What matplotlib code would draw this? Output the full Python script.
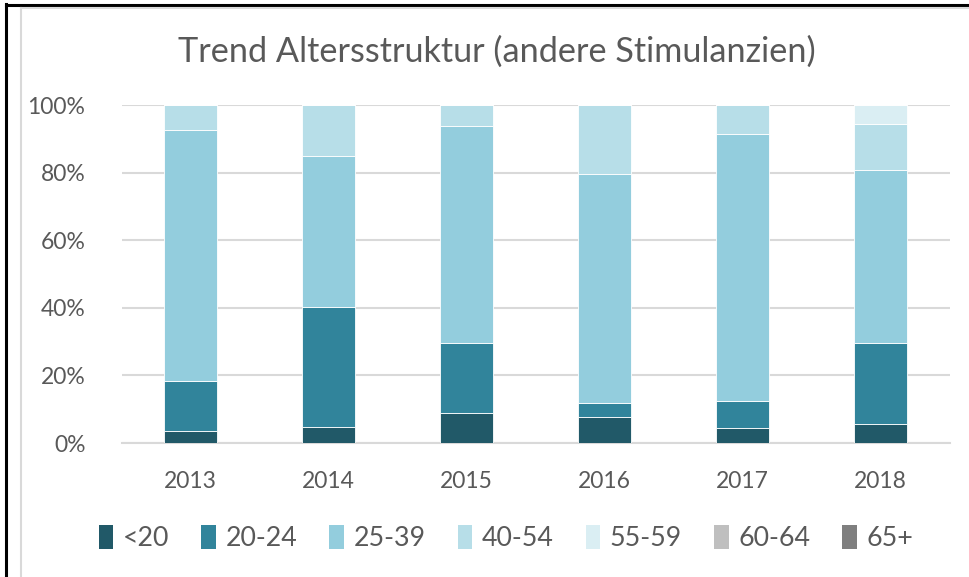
import matplotlib
matplotlib.use("Agg")
import matplotlib.pyplot as plt
from matplotlib.lines import Line2D
from matplotlib.patches import Patch
import numpy as np

years = ["2013", "2014", "2015", "2016", "2017", "2018"]
groups = ["<20", "20-24", "25-39", "40-54", "55-59", "60-64", "65+"]
lt20 = [3.6, 4.8, 9.0, 7.8, 4.3, 5.5]
a20_24 = [14.7, 35.4, 20.7, 4.1, 8.2, 24.2]
a25_39 = [74.4, 44.8, 64.2, 67.8, 79.0, 51.2]
a40_54 = [7.3, 15.0, 6.1, 20.3, 8.5, 13.6]
a55_59 = [0.0, 0.0, 0.0, 0.0, 0.0, 5.5]
a60_64 = [0.0, 0.0, 0.0, 0.0, 0.0, 0.0]
a65p = [0.0, 0.0, 0.0, 0.0, 0.0, 0.0]
series = [lt20, a20_24, a25_39, a40_54, a55_59, a60_64, a65p]
colors = ["#215968", "#31849B", "#93CDDD", "#B7DEE8", "#DAEEF3", "#BFBFBF", "#7F7F7F"]

plt.rcParams['font.family'] = ['Lato', 'DejaVu Sans']
txt = "#595959"
W, H = 969, 577
fig = plt.figure(figsize=(W / 100, H / 100), dpi=100)
fig.patch.set_facecolor("white")

ax = fig.add_axes([121.5 / W, 1 - 443 / H, (949.5 - 121.5) / W, (443 - 105) / H])
x = np.arange(len(years))
bottom = np.zeros(len(years))
for vals, c, g in zip(series, colors, groups):
    v = np.array(vals) / 100.0
    ax.bar(x, v, width=0.385, bottom=bottom, color=c, edgecolor="white",
           linewidth=0.6, label=g, zorder=3)
    bottom += v

ax.set_xlim(-0.5, len(years) - 0.5)
ax.set_ylim(0, 1.0)
ax.set_yticks(np.linspace(0, 1, 6))
ax.set_yticklabels([f"{int(round(t * 100))}%" for t in np.linspace(0, 1, 6)])
ax.set_xticks(x)
ax.set_xticklabels(years)
ax.yaxis.grid(True, color="#D9D9D9", linewidth=1.5, zorder=0)
ax.set_axisbelow(True)
for s in ["top", "right", "left"]:
    ax.spines[s].set_visible(False)
ax.spines["bottom"].set_color("#D9D9D9")
ax.spines["bottom"].set_linewidth(1.5)
ax.tick_params(axis="both", length=0, colors=txt, labelsize=16.5)
ax.tick_params(axis="y", pad=26)
ax.tick_params(axis="x", pad=20)

fig.text(497 / W, 1 - 52 / H, "Trend Altersstruktur (andere Stimulanzien)",
         ha="center", va="center", fontsize=24.7, color=txt)

handles = [Patch(facecolor=c, edgecolor="none") for c in colors]
leg = fig.legend(handles, groups, loc="center", bbox_to_anchor=(506 / W, 1 - 538 / H),
                 ncol=7, frameon=False, fontsize=19.3, labelcolor=txt,
                 handlelength=0.55, handleheight=1.0, handletextpad=0.35,
                 columnspacing=1.2)

# outer frame
fig.add_artist(Line2D([6 / W, 1], [1 - 4.5 / H, 1 - 4.5 / H], color="black", lw=2.2,
                      transform=fig.transFigure))
fig.add_artist(Line2D([5.5 / W, 5.5 / W], [0, 1 - 4 / H], color="black", lw=2.2,
                      transform=fig.transFigure))
fig.add_artist(Line2D([21 / W, 1], [1 - 7.5 / H, 1 - 7.5 / H], color="#D9D9D9", lw=1.5,
                      transform=fig.transFigure))
fig.add_artist(Line2D([21 / W, 21 / W], [0, 1 - 7.5 / H], color="#D9D9D9", lw=1.5,
                      transform=fig.transFigure))

fig.savefig("out.png", dpi=100, facecolor="white")
